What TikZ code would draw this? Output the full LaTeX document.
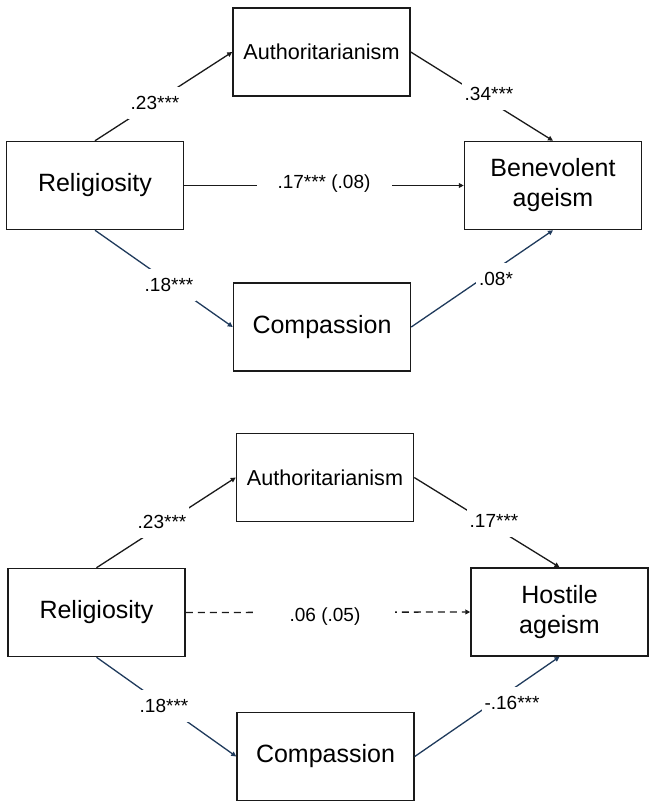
\documentclass[tikz,border=0pt]{standalone}
\usepackage{fontspec}
\setmainfont{Liberation Sans}
\usetikzlibrary{arrows.meta}
\definecolor{agblack}{HTML}{1A1A1A}
\definecolor{agnavy}{HTML}{1F3A5C}
\tikzset{
  var/.style  = {rectangle, draw=agblack, line width=0.75pt, fill=white,
                 minimum width=88.5pt, minimum height=44pt, inner sep=0pt,
                 font=\fontsize{12.5}{15}\selectfont, align=center},
  med/.style  = {var, font=\fontsize{10.8}{13}\selectfont},
  coef/.style = {fill=white, inner xsep=1.5pt, inner ysep=0pt,
                 minimum height=16pt, font=\fontsize{9.5}{11.4}\selectfont},
  ed/.style   = {-{Triangle[length=2.5pt,width=2.4pt]}, draw=agblack,
                 line width=0.65pt},
  edb/.style  = {ed, draw=agnavy},
  edd/.style  = {ed, dash pattern=on 3.5pt off 2.5pt},
}
\begin{document}
\begin{tikzpicture}[x=0.5pt,y=-0.5pt]
  \useasboundingbox (0,0) rectangle (653,804);
  % benevolent ageism model
  \node[var] (rel1) at (95,185.5) {Religiosity};
  \node[med] (aut1) at (321.5,52) {Authoritarianism};
  \node[var] (ben1) at (553,185.5) {Benevolent\\ageism};
  \node[var] (com1) at (322,327) {Compassion};
  \draw[ed] (rel1.north) -- (aut1.west);
  \draw[ed] (aut1.east) -- (ben1.north);
  \draw[ed] (rel1.east) -- (ben1.west);
  \draw[edb] (rel1.south) -- (com1.west);
  \draw[edb] (com1.east) -- (ben1.south);
  \node[coef] (b1) at (155,103) {.23***};
  \node[coef] (b2) at (489,94) {.34***};
  \node[coef,minimum width=67.5pt] (b3) at (324,184) {.17*** (.08)};
  \node[coef] (b4) at (169,285) {.18***};
  \node[coef] (b5) at (496,279) {.08*};
  % hostile ageism model
  \node[var] (rel2) at (96.5,612.5) {Religiosity};
  \node[med] (aut2) at (325,477.5) {Authoritarianism};
  \node[var] (hos2) at (559.5,612) {Hostile\\ageism};
  \node[var] (com2) at (325.5,756.5) {Compassion};
  \draw[ed] (rel2.north) -- (aut2.west);
  \draw[ed] (aut2.east) -- (hos2.north);
  \draw[edd] (rel2.east) -- (hos2.west);
  \draw[edb] (rel2.south) -- (com2.west);
  \draw[edb] (com2.east) -- (hos2.south);
  \node[coef] (h1) at (162,522) {.23***};
  \node[coef] (h2) at (494,521) {.17***};
  \node[coef,minimum width=70pt] (h3) at (325,617) {.06 (.05)};
  \node[coef] (h4) at (164,706) {.18***};
  \node[coef] (h5) at (512,703) {-.16***};
\end{tikzpicture}
\end{document}
